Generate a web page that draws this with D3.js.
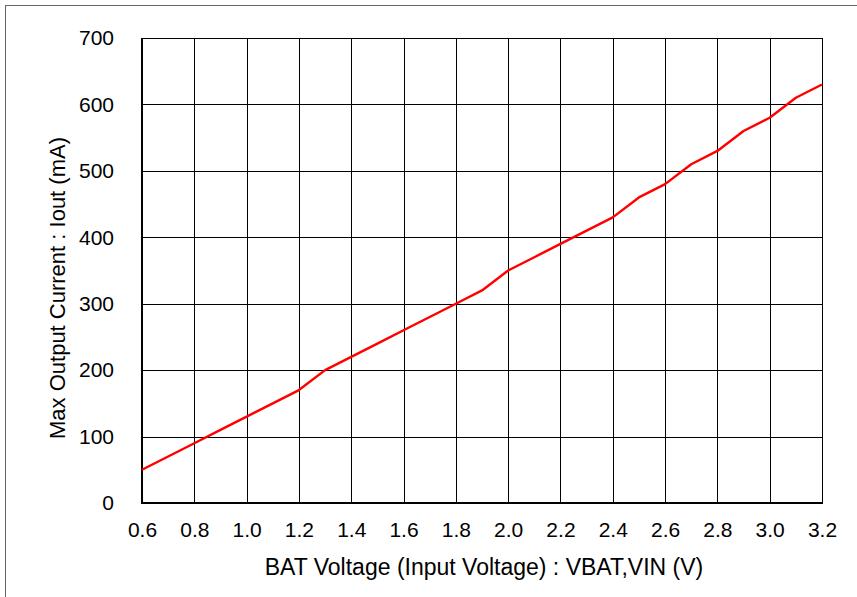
<!DOCTYPE html>
<html>
<head>
<meta charset="utf-8">
<script src="https://cdn.jsdelivr.net/npm/d3@7"></script>
<style>
  body { margin: 0; background: #fff; }
  text { font-family: "Liberation Sans", Arial, sans-serif; fill: #000; }
</style>
</head>
<body>
<div class="chart"></div>
<script>
// BAT voltage (V) and max output current (mA)
const vbat = [0.6, 0.7, 0.8, 0.9, 1.0, 1.1, 1.2, 1.3, 1.4, 1.5, 1.6, 1.7, 1.8, 1.9,
              2.0, 2.1, 2.2, 2.3, 2.4, 2.5, 2.6, 2.7, 2.8, 2.9, 3.0, 3.1, 3.2];
const iout = [50, 70, 90, 110, 130, 150, 170, 200, 220, 240, 260, 280, 300, 320,
              350, 370, 390, 410, 430, 460, 480, 510, 530, 560, 580, 610, 630];
const xTicks = [0.6, 0.8, 1.0, 1.2, 1.4, 1.6, 1.8, 2.0, 2.2, 2.4, 2.6, 2.8, 3.0, 3.2];
const yTicks = [0, 100, 200, 300, 400, 500, 600, 700];

const data = vbat.map((v, i) => ({v: v, i: iout[i]}));

const W = 857, H = 597;
const margin = ({top: 38, right: 35, bottom: 94, left: 142});
const w = W - margin.left - margin.right,
      h = H - margin.top - margin.bottom;

const root = d3.select(".chart")
  .append("svg")
  .attr("width", W)
  .attr("height", H);

// outer frame (only left/top fall inside the picture)
root.append("rect")
  .attr("x", 5.5).attr("y", 5.5)
  .attr("width", W).attr("height", H)
  .attr("fill", "none")
  .attr("stroke", "#666")
  .attr("stroke-width", 1);

const svg = root.append("g")
  .attr("transform", `translate(${margin.left},${margin.top})`);

const xScale = d3.scaleLinear().domain([0.6, 3.2]).range([0, w]);
const yScale = d3.scaleLinear().domain([0, 700]).range([h, 0]);

// grid
svg.append("g")
  .selectAll("line")
  .data(xTicks)
  .join("line")
  .attr("x1", d => Math.round(xScale(d)) + 0.5)
  .attr("x2", d => Math.round(xScale(d)) + 0.5)
  .attr("y1", 0).attr("y2", h)
  .attr("stroke", "#000").attr("stroke-width", 1);

svg.append("g")
  .selectAll("line")
  .data(yTicks)
  .join("line")
  .attr("y1", d => Math.round(yScale(d)) + 0.5)
  .attr("y2", d => Math.round(yScale(d)) + 0.5)
  .attr("x1", 0).attr("x2", w)
  .attr("stroke", "#000").attr("stroke-width", 1);

// heavier left & bottom axis lines
svg.append("line")
  .attr("x1", 0).attr("x2", 0).attr("y1", 0).attr("y2", h + 1)
  .attr("stroke", "#000").attr("stroke-width", 2);
svg.append("line")
  .attr("x1", 0).attr("x2", w + 1).attr("y1", h).attr("y2", h)
  .attr("stroke", "#000").attr("stroke-width", 2);

// axes (labels only)
const xAxis = d3.axisBottom(xScale)
  .tickValues(xTicks)
  .tickSize(0)
  .tickPadding(19)
  .tickFormat(d3.format(".1f"));

svg.append("g")
  .attr("transform", `translate(0,${h})`)
  .call(xAxis)
  .call(g => g.select(".domain").remove())
  .call(g => g.attr("font-size", 21).attr("font-family", null))
  .selectAll("text")
  .attr("fill", "#000");

const yAxis = d3.axisLeft(yScale)
  .tickValues(yTicks)
  .tickSize(0)
  .tickPadding(28);

svg.append("g")
  .call(yAxis)
  .call(g => g.select(".domain").remove())
  .call(g => g.attr("font-size", 21).attr("font-family", null))
  .selectAll("text")
  .attr("fill", "#000");

// the curve
const line = d3.line()
  .x(d => xScale(d.v))
  .y(d => yScale(d.i));

svg.append("path")
  .datum(data)
  .attr("fill", "none")
  .attr("stroke", "#ff0000")
  .attr("stroke-width", 2.4)
  .attr("stroke-linejoin", "round")
  .attr("d", line);

// axis titles
root.append("text")
  .attr("x", 484)
  .attr("y", 575)
  .attr("text-anchor", "middle")
  .attr("font-size", 23)
  .text("BAT Voltage (Input Voltage) : VBAT,VIN (V)");

root.append("text")
  .attr("transform", "translate(65,288) rotate(-90)")
  .attr("text-anchor", "middle")
  .attr("font-size", 22)
  .text("Max Output Current : Iout (mA)");
</script>
</body>
</html>
